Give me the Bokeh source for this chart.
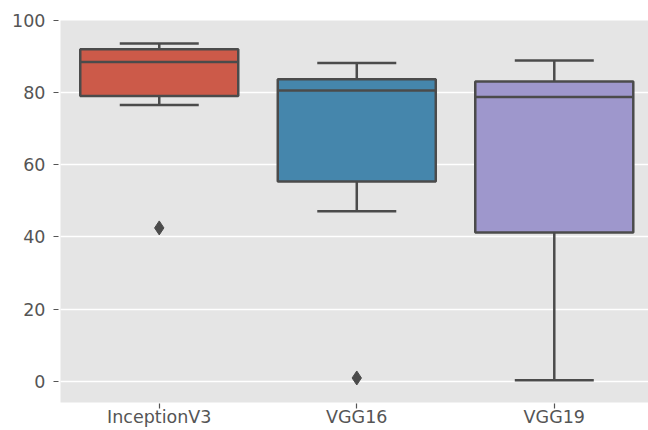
from bokeh.plotting import figure
from bokeh.models import Range1d, FixedTicker, ColumnDataSource
from bokeh.embed import file_html
from bokeh.resources import INLINE

# Data
categories = ["InceptionV3", "VGG16", "VGG19"]
whisker_low = [76.6, 47.1, 0.3]
q1 = [79.1, 55.4, 41.2]
median = [88.5, 80.6, 78.8]
q3 = [92.0, 83.7, 83.1]
whisker_high = [93.6, 88.2, 88.9]
outlier_cat = [0, 1]
outlier_val = [42.5, 0.9]
colors = ["#CC5A49", "#4586AC", "#9E97CC"]

y_ticks = [0, 20, 40, 60, 80, 100]

LINE = "#4b4b4b"
TXT = "#555555"
FONT = "DejaVu Sans"
LW = 2.5

xs = list(range(len(categories)))
src = ColumnDataSource(dict(
    x=xs,
    left=[x - 0.4 for x in xs],
    right=[x + 0.4 for x in xs],
    cl=[x - 0.2 for x in xs],
    cr=[x + 0.2 for x in xs],
    wl=whisker_low, q1=q1, med=median, q3=q3, wh=whisker_high,
    color=colors,
))

p = figure(width=648, height=430, output_backend="svg", toolbar_location=None,
           x_range=Range1d(-0.5, 2.477), y_range=Range1d(-5.9, 100))
p.min_border_left = 60
p.min_border_top = 20
p.min_border_right = 0
p.min_border_bottom = 28
p.background_fill_color = "#E5E5E5"
p.border_fill_color = "white"
p.outline_line_color = None

# whiskers
p.segment(x0="x", y0="q3", x1="x", y1="wh", source=src, line_color=LINE, line_width=LW)
p.segment(x0="x", y0="q1", x1="x", y1="wl", source=src, line_color=LINE, line_width=LW)
# caps
p.segment(x0="cl", y0="wh", x1="cr", y1="wh", source=src, line_color=LINE, line_width=LW)
p.segment(x0="cl", y0="wl", x1="cr", y1="wl", source=src, line_color=LINE, line_width=LW)
# boxes
p.quad(left="left", right="right", bottom="q1", top="q3", source=src,
       fill_color="color", line_color=LINE, line_width=LW)
# medians
p.segment(x0="left", y0="med", x1="right", y1="med", source=src, line_color=LINE, line_width=LW)
# outliers
p.scatter(x=outlier_cat, y=outlier_val, marker="diamond", size=14,
          fill_color=LINE, line_color=LINE)

p.xgrid.grid_line_color = None
p.ygrid.grid_line_color = "white"
p.ygrid.grid_line_width = 1.3

p.xaxis.ticker = FixedTicker(ticks=xs)
p.xaxis.major_label_overrides = {i: c for i, c in enumerate(categories)}
p.yaxis.ticker = FixedTicker(ticks=y_ticks)

for ax in (p.xaxis, p.yaxis):
    ax.axis_line_color = None
    ax.major_tick_line_color = TXT
    ax.major_tick_line_width = 1.2
    ax.major_tick_out = 7
    ax.major_tick_in = -2
    ax.minor_tick_line_color = None
    ax.major_label_text_color = TXT
    ax.major_label_text_font = FONT
    ax.major_label_text_font_size = "17.5px"
p.yaxis.major_label_standoff = 8
p.xaxis.major_tick_out = 6
p.xaxis.major_tick_in = -1
p.xaxis.major_label_standoff = -2

open("out.html", "w").write(file_html(p, INLINE))
